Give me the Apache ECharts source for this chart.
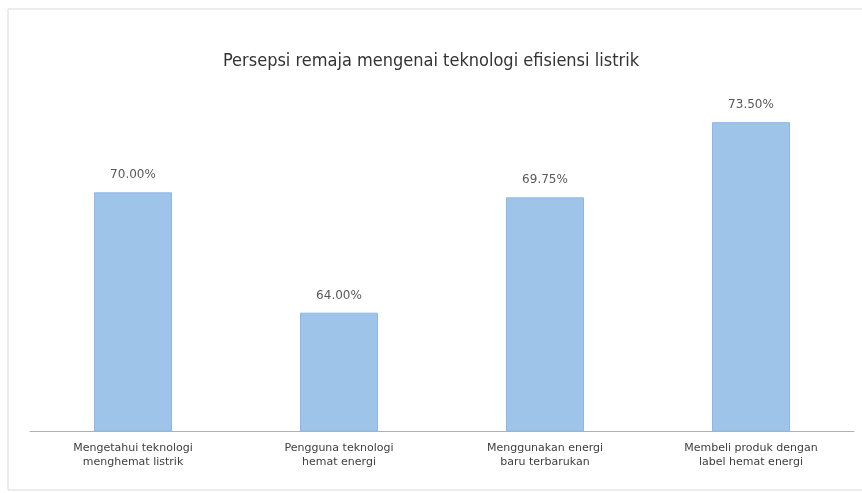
<!DOCTYPE html>
<html><head><meta charset="utf-8">
<script src="https://cdn.jsdelivr.net/npm/echarts@6/dist/echarts.min.js"></script>
<style>html,body{margin:0;padding:0;background:#fff}#c{width:862px;height:493px}</style>
</head><body><div id="c"></div>
<script>
const title = 'Persepsi remaja mengenai teknologi efisiensi listrik';
const categories = ['Mengetahui teknologi\nmenghemat listrik', 'Pengguna teknologi\nhemat energi', 'Menggunakan energi\nbaru terbarukan', 'Membeli produk dengan\nlabel hemat energi'];
const values = [70.00, 64.00, 69.75, 73.50];

const chart = echarts.init(document.getElementById('c'));
chart.setOption({
  animation: false,
  backgroundColor: '#fff',
  graphic: [{type: 'rect', shape: {x: 8, y: 9, width: 860, height: 481}, style: {fill: 'none', stroke: '#d9d9d9', lineWidth: 1}, silent: true}],
  title: {text: title, left: 'center', top: 47, textStyle: {fontFamily: 'DejaVu Sans Condensed', fontWeight: 'normal', fontSize: 18, color: '#333'}},
  grid: {left: 30, right: 8, top: 70, bottom: 62},
  xAxis: {type: 'category', data: categories,
    axisLine: {lineStyle: {color: '#b0b0b0', width: 1}}, axisTick: {show: false},
    axisLabel: {fontFamily: 'DejaVu Sans', fontSize: 11, color: '#404040', lineHeight: 14, margin: 10, interval: 0}},
  yAxis: {type: 'value', min: 58.1, max: 76.1, show: false, splitLine: {show: false}},
  series: [{type: 'bar', data: values, barWidth: 78,
    itemStyle: {color: '#9fc4ea', borderColor: '#8fb7e3', borderWidth: 1},
    label: {show: true, position: 'top', distance: 11, formatter: p => p.value.toFixed(2) + '%', fontFamily: 'DejaVu Sans', fontSize: 12, color: '#595959'}}]
});
</script></body></html>
